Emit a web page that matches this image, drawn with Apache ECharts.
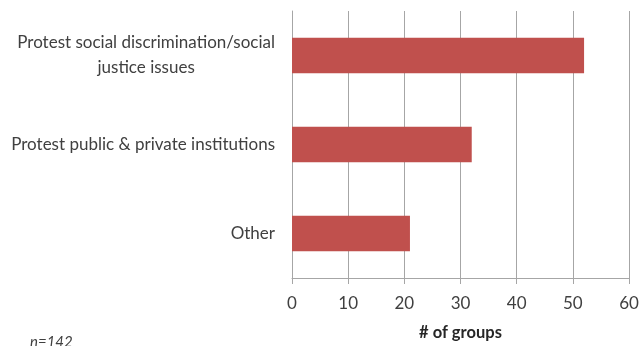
<!DOCTYPE html>
<html>
<head>
<meta charset="utf-8">
<script src="https://cdn.jsdelivr.net/npm/echarts@6/dist/echarts.min.js"></script>
<style>html,body{margin:0;padding:0;background:#fff;}#c{width:644px;height:346px;}</style>
</head>
<body>
<div id="c"></div>
<script>
const categories = ["Protest social discrimination/social\njustice issues", "Protest public & private institutions", "Other"];
const values = [52, 32, 21];
const xTicks = [0, 10, 20, 30, 40, 50, 60];

const font = "Lato, 'Open Sans', sans-serif";
const fontSize = 17;
const ctx = document.createElement('canvas').getContext('2d');
ctx.font = fontSize + 'px ' + font;
function labelFormatter(v) {
  const lines = String(v).split('\n');
  if (lines.length === 1) return v;
  return lines.map(l => '{c|' + l + '}').join('\n');
}
let maxW = 0;
categories.forEach(c => c.split('\n').forEach(l => {
  if (c.indexOf('\n') >= 0) maxW = Math.max(maxW, ctx.measureText(l).width);
}));

const chart = echarts.init(document.getElementById('c'), null, {renderer: 'canvas'});
chart.setOption({
  animation: false,
  grid: {left: 292, right: 15, top: 11, bottom: 67, containLabel: false},
  xAxis: {
    type: 'value', min: xTicks[0], max: xTicks[xTicks.length - 1], interval: 10,
    name: '# of groups', nameLocation: 'middle', nameGap: 46,
    nameTextStyle: {fontFamily: font, fontSize: 16.5, fontWeight: 'bold', color: '#262626'},
    axisLine: {show: true, lineStyle: {color: '#a6a6a6'}},
    axisTick: {show: true, length: 6, lineStyle: {color: '#a6a6a6'}},
    axisLabel: {fontFamily: font, fontSize: fontSize, color: '#404040', margin: 17},
    splitLine: {show: true, lineStyle: {color: '#a6a6a6'}}
  },
  yAxis: {
    type: 'category', data: categories, inverse: true,
    axisLine: {show: true, lineStyle: {color: '#a6a6a6'}},
    axisTick: {show: false},
    axisLabel: {fontFamily: font, fontSize: fontSize, color: '#404040', margin: 17, lineHeight: 25,
      formatter: labelFormatter,
      rich: {c: {fontFamily: font, fontSize: fontSize, color: '#404040', width: maxW, align: 'center', lineHeight: 25}}
    }
  },
  series: [{
    type: 'bar', data: values, barCategoryGap: '60%',
    itemStyle: {color: '#C0504D'}
  }],
  graphic: [{
    type: 'text', left: 30, top: 335,
    style: {text: 'n=142', font: 'italic 15px ' + font, fill: '#404040'}
  }]
});
</script>
</body>
</html>
